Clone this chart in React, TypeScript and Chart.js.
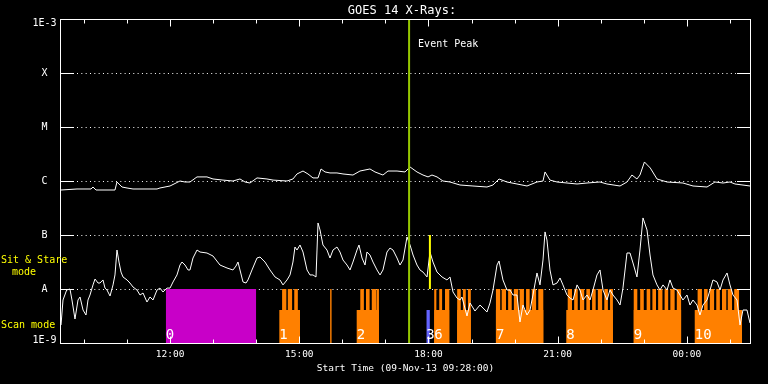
import React, { useEffect, useRef } from "react";
import { Chart, registerables } from "chart.js";

Chart.register(...registerables);

// ---------- data ----------
const START_TIME = "09:28";
const END_OFFSET_MIN = 960; // 01:28 next day

const yTickValues = [1e-9, 1e-8, 1e-7, 1e-6, 1e-5, 1e-4, 1e-3];
const yTickLabels = ["1E-9", "A", "B", "C", "M", "X", "1E-3"];
const gridLevels = [1e-8, 1e-7, 1e-6, 1e-5, 1e-4];

const xTickTimes = ["12:00", "15:00", "18:00", "21:00", "00:00"];
const hourTickTimes = [
  "10:00", "11:00", "12:00", "13:00", "14:00", "15:00", "16:00", "17:00",
  "18:00", "19:00", "20:00", "21:00", "22:00", "23:00", "00:00", "01:00",
];

const chartTitle = "GOES 14 X-Rays:";
const xAxisTitle = "Start Time (09-Nov-13 09:28:00)";
const eventPeakTime = "17:33";
const eventPeakLabel = "Event Peak";

// long channel (1-8 A), [minutes after start, W/m^2]
const longChannel: [number, number][] = [
  [0, 6.81e-7], [22.3, 7.11e-7], [41.8, 7.11e-7], [44.6, 7.74e-7], [48.8, 6.81e-7], [54.3, 6.81e-7],
  [75.2, 6.81e-7], [78.0, 9.58e-7], [85.0, 7.74e-7], [92.0, 7.42e-7], [100.3, 7.11e-7], [133.8, 7.11e-7],
  [137.9, 7.42e-7], [151.9, 8.08e-7], [165.8, 1.0e-6], [172.8, 9.58e-7], [179.7, 9.58e-7], [189.5, 1.19e-6],
  [203.4, 1.19e-6], [211.8, 1.09e-6], [225.7, 1.04e-6], [239.6, 1.0e-6], [249.4, 1.09e-6], [256.4, 9.58e-7],
  [263.3, 9.18e-7], [273.1, 1.14e-6], [287.0, 1.09e-6], [295.4, 1.04e-6], [314.9, 1.0e-6], [323.2, 1.09e-6],
  [328.8, 1.35e-6], [337.2, 1.53e-6], [344.1, 1.35e-6], [351.1, 1.14e-6], [358.1, 1.14e-6], [362.3, 1.67e-6],
  [367.9, 1.47e-6], [374.8, 1.41e-6], [384.5, 1.41e-6], [392.9, 1.35e-6], [406.8, 1.29e-6], [416.6, 1.53e-6],
  [430.5, 1.67e-6], [437.5, 1.47e-6], [448.6, 1.29e-6], [455.6, 1.53e-6], [468.2, 1.53e-6], [479.3, 1.47e-6],
  [486.3, 1.82e-6], [496.0, 1.47e-6], [504.4, 1.29e-6], [511.4, 1.19e-6], [516.9, 1.29e-6], [523.9, 1.19e-6],
  [532.2, 1.0e-6], [542.0, 9.58e-7], [555.9, 8.43e-7], [574.0, 8.08e-7], [593.5, 7.74e-7], [601.9, 8.43e-7],
  [610.3, 1.09e-6], [621.4, 9.58e-7], [635.3, 8.80e-7], [649.3, 8.08e-7], [663.2, 9.58e-7], [671.6, 1.0e-6],
  [674.4, 1.47e-6], [681.3, 1.04e-6], [691.1, 9.58e-7], [705.0, 9.18e-7], [719.0, 8.80e-7], [732.9, 9.18e-7],
  [751.0, 9.58e-7], [760.7, 8.80e-7], [778.9, 8.08e-7], [788.6, 9.58e-7], [795.5, 1.29e-6], [802.5, 1.09e-6],
  [806.7, 1.29e-6], [812.9, 2.25e-6], [821.1, 1.74e-6], [830.4, 1.09e-6], [844.4, 9.58e-7], [866.6, 9.18e-7],
  [880.6, 8.08e-7], [900.1, 7.74e-7], [911.2, 9.58e-7], [922.4, 9.18e-7], [932.1, 9.58e-7], [939.1, 8.80e-7],
  [960, 8.08e-7],
];

// short channel (0.5-4 A), [minutes after start, W/m^2]
const shortChannel: [number, number][] = [
  [0, 2.15e-9], [2.8, 6.26e-9], [7.9, 9.58e-9], [12.5, 1.0e-8], [15.3, 6.26e-9], [19.5, 2.78e-9],
  [23.7, 6.26e-9], [26.5, 7.11e-9], [30.7, 4.08e-9], [34.8, 3.30e-9], [37.6, 6.26e-9], [40.4, 7.74e-9],
  [44.6, 1.19e-8], [47.4, 1.53e-8], [51.6, 1.29e-8], [54.3, 1.29e-8], [58.5, 1.47e-8], [61.3, 1.04e-8],
  [64.1, 9.58e-9], [68.3, 7.42e-9], [72.5, 1.19e-8], [75.2, 1.82e-8], [78.0, 5.27e-8], [80.8, 3.16e-8],
  [83.6, 2.06e-8], [86.4, 1.67e-8], [92.0, 1.47e-8], [96.1, 1.29e-8], [100.3, 1.09e-8], [105.9, 9.58e-9],
  [110.1, 7.74e-9], [114.3, 8.43e-9], [119.8, 5.74e-9], [124.0, 7.11e-9], [128.2, 6.26e-9], [133.8, 9.58e-9],
  [137.9, 1.04e-8], [142.1, 8.80e-9], [147.7, 1.04e-8], [151.9, 1.04e-8], [156.1, 1.35e-8], [161.6, 1.82e-8],
  [165.8, 2.78e-8], [168.6, 3.16e-8], [172.8, 2.78e-8], [177.0, 2.25e-8], [179.7, 2.25e-8], [183.9, 3.75e-8],
  [189.5, 5.27e-8], [193.7, 4.84e-8], [203.4, 4.64e-8], [211.8, 4.08e-8], [221.5, 2.78e-8], [231.3, 2.45e-8],
  [239.6, 2.25e-8], [243.8, 2.66e-8], [246.6, 3.16e-8], [249.4, 2.25e-8], [253.6, 1.35e-8], [257.8, 1.29e-8],
  [260.5, 1.47e-8], [266.1, 2.25e-8], [273.1, 3.75e-8], [277.3, 3.91e-8], [284.2, 3.16e-8], [291.2, 2.25e-8],
  [298.2, 1.67e-8], [305.1, 1.47e-8], [309.3, 1.19e-8], [314.9, 1.47e-8], [319.1, 1.82e-8], [323.2, 3.16e-8],
  [326.0, 5.99e-8], [328.8, 5.27e-8], [333.0, 6.53e-8], [337.2, 4.84e-8], [342.8, 2.25e-8], [346.9, 1.82e-8],
  [351.1, 1.82e-8], [355.3, 1.67e-8], [356.7, 5.27e-8], [358.1, 1.67e-7], [360.9, 1.24e-7], [365.0, 6.53e-8],
  [370.6, 5.27e-8], [374.8, 3.75e-8], [379.0, 5.27e-8], [384.5, 5.99e-8], [388.7, 4.84e-8], [392.9, 3.44e-8],
  [398.5, 2.78e-8], [402.7, 2.25e-8], [406.8, 3.16e-8], [412.4, 5.27e-8], [415.2, 6.53e-8], [419.4, 3.75e-8],
  [423.6, 2.78e-8], [426.3, 4.84e-8], [430.5, 4.26e-8], [434.7, 3.16e-8], [440.3, 2.25e-8], [444.5, 1.82e-8],
  [448.6, 2.25e-8], [454.2, 4.84e-8], [458.4, 5.74e-8], [462.6, 5.27e-8], [468.2, 3.75e-8], [472.3, 2.78e-8],
  [476.5, 3.44e-8], [482.1, 9.18e-8], [486.3, 6.53e-8], [490.5, 4.26e-8], [496.0, 2.78e-8], [500.2, 2.25e-8],
  [504.4, 2.06e-8], [510.0, 1.67e-8], [514.1, 4.84e-8], [518.3, 3.16e-8], [523.9, 2.06e-8], [530.9, 1.67e-8],
  [537.8, 1.47e-8], [542.0, 1.67e-8], [546.2, 8.80e-9], [551.7, 6.81e-9], [555.9, 6.26e-9], [558.7, 7.11e-9],
  [565.7, 3.16e-9], [569.9, 5.50e-9], [576.8, 3.91e-9], [583.8, 5.05e-9], [588.0, 4.45e-9], [593.5, 3.75e-9],
  [597.7, 5.50e-9], [601.9, 9.58e-9], [607.5, 2.78e-8], [610.3, 3.30e-8], [615.8, 1.47e-8], [621.4, 9.58e-9],
  [625.6, 9.58e-9], [629.8, 7.74e-9], [635.3, 7.74e-9], [639.5, 2.45e-9], [643.7, 5.05e-9], [649.3, 3.30e-9],
  [653.5, 4.08e-9], [657.6, 7.74e-9], [663.2, 1.98e-8], [667.4, 1.19e-8], [671.6, 3.44e-8], [674.4, 1.14e-7],
  [677.1, 8.08e-8], [681.3, 2.25e-8], [685.5, 1.19e-8], [691.1, 1.29e-8], [695.3, 1.60e-8], [699.4, 1.19e-8],
  [705.0, 7.74e-9], [709.2, 6.81e-9], [713.4, 6.26e-9], [719.0, 1.19e-8], [723.1, 9.58e-9], [727.3, 6.26e-9],
  [732.9, 7.74e-9], [737.1, 6.26e-9], [741.2, 9.58e-9], [746.8, 1.82e-8], [751.0, 2.25e-8], [755.2, 9.58e-9],
  [760.7, 6.26e-9], [764.9, 9.58e-9], [769.1, 7.74e-9], [774.7, 6.26e-9], [778.9, 5.05e-9], [783.0, 1.04e-8],
  [788.6, 4.64e-8], [792.8, 4.64e-8], [797.0, 3.03e-8], [802.5, 1.67e-8], [806.7, 5.27e-8], [810.9, 2.07e-7],
  [816.5, 1.24e-7], [820.7, 4.26e-8], [824.8, 1.82e-8], [830.4, 1.19e-8], [834.6, 9.58e-9], [838.8, 1.19e-8],
  [844.4, 9.58e-9], [848.5, 1.47e-8], [852.7, 1.04e-8], [858.3, 9.58e-9], [862.5, 7.74e-9], [866.6, 6.26e-9],
  [872.2, 7.74e-9], [876.4, 5.05e-9], [880.6, 6.26e-9], [886.1, 5.05e-9], [890.3, 3.30e-9], [894.5, 5.05e-9],
  [900.1, 6.26e-9], [904.3, 9.58e-9], [908.4, 1.47e-8], [914.0, 1.35e-8], [918.2, 9.58e-9], [922.4, 1.47e-8],
  [928.0, 1.98e-8], [932.1, 1.19e-8], [936.3, 7.74e-9], [941.9, 6.26e-9], [946.1, 2.15e-9], [950.2, 4.08e-9],
  [955.8, 4.08e-9], [960, 2.34e-9],
];

// observation bars (time intervals)
const FLOOR = 1e-9;
const SIT_STARE_TOP = 1e-8;
const SCAN_BLOCK_TOP = 4.1e-9;
const STRIPE_TOP = 1e-8;

const sitStareIntervals: [string, string][] = [["11:54", "14:00"]];
const blueIntervals: [string, string][] = [["17:57", "18:02"]];
const scanBlocks: [string, string][] = [
  ["14:32", "15:01"], ["16:20", "16:51"], ["18:08", "18:29"], ["18:40", "18:59"],
  ["19:34", "20:40"], ["21:12", "22:17"], ["22:46", "23:52"], ["00:11", "01:17"],
];
const scanStripes: [string, string][] = [
  ["14:36", "14:42"], ["14:44", "14:50"], ["14:53", "14:58"],
  ["15:43", "15:45"],
  ["16:25", "16:30"], ["16:33", "16:38"], ["16:41", "16:47"], ["16:48", "16:51"],
  ["18:08", "18:11"], ["18:15", "18:19"], ["18:23", "18:29"],
  ["18:40", "18:45"], ["18:48", "18:52"], ["18:55", "18:59"],
  ["19:34", "19:40"], ["19:42", "19:48"], ["19:51", "19:56"], ["19:59", "20:05"],
  ["20:07", "20:13"], ["20:16", "20:21"], ["20:24", "20:30"], ["20:33", "20:40"],
  ["21:14", "21:20"], ["21:23", "21:28"], ["21:31", "21:37"], ["21:40", "21:45"],
  ["21:48", "21:53"], ["21:56", "22:02"], ["22:05", "22:10"], ["22:13", "22:17"],
  ["22:46", "22:51"], ["22:55", "23:00"], ["23:04", "23:09"], ["23:12", "23:17"],
  ["23:20", "23:26"], ["23:29", "23:34"], ["23:37", "23:43"], ["23:46", "23:52"],
  ["00:15", "00:21"], ["00:24", "00:29"], ["00:32", "00:38"], ["00:41", "00:46"],
  ["00:49", "00:55"], ["00:57", "01:03"], ["01:06", "01:13"],
];
const yellowMarkTime = "18:02";
const yellowMarkRange = [1e-8, 1e-7];

const barLabels: [string, string][] = [
  ["0", "11:54"], ["1", "14:32"], ["2", "16:20"], ["3", "17:57"], ["6", "18:08"],
  ["7", "19:34"], ["8", "21:12"], ["9", "22:46"], ["10", "00:11"],
];

// ---------- helpers ----------
function toMin(t: string): number {
  const [h, m] = t.split(":").map(Number);
  const [h0, m0] = START_TIME.split(":").map(Number);
  return (h * 60 + m - (h0 * 60 + m0) + 1440) % 1440;
}

function rectPoints(intervals: [string, string][], top: number) {
  const pts: { x: number; y: number }[] = [];
  for (const [s, e] of intervals) {
    const a = toMin(s);
    const b = toMin(e);
    pts.push({ x: a, y: FLOOR }, { x: a, y: top }, { x: b, y: top }, { x: b, y: FLOOR });
  }
  return pts;
}

const MONO = "'DejaVu Sans Mono', monospace";

const decorPlugin = {
  id: "decor",
  beforeDatasetsDraw(chart: any) {
    const { ctx, chartArea: a, scales } = chart;
    const ys = scales.y;
    ctx.save();
    ctx.strokeStyle = "#ffffff";
    ctx.lineWidth = 1;
    ctx.setLineDash([1, 3.33]);
    for (const v of gridLevels) {
      const py = Math.round(ys.getPixelForValue(v)) + 0.5;
      ctx.beginPath();
      ctx.moveTo(a.left + 16, py);
      ctx.lineTo(a.right - 14, py);
      ctx.stroke();
    }
    ctx.restore();
  },
  afterDatasetsDraw(chart: any) {
    const { ctx, chartArea: a, scales } = chart;
    const xs = scales.x;
    const ys = scales.y;
    const L = a.left - 0.5;
    const R = a.right + 0.5;
    const T = a.top + 0.5;
    const B = a.bottom + 0.5;
    ctx.save();
    ctx.strokeStyle = "#ffffff";
    ctx.lineWidth = 1;
    ctx.setLineDash([]);
    ctx.strokeRect(L, T, R - L, B - T);
    // y stubs + y labels
    ctx.fillStyle = "#ffffff";
    ctx.font = `10px ${MONO}`;
    ctx.textAlign = "center";
    ctx.textBaseline = "middle";
    yTickValues.forEach((v, i) => {
      const raw = ys.getPixelForValue(v);
      const py = Math.round(raw) + 0.5;
      ctx.beginPath();
      ctx.moveTo(L, py);
      ctx.lineTo(L + 13.5, py);
      ctx.moveTo(R - 13.5, py);
      ctx.lineTo(R, py);
      ctx.stroke();
      const ly = Math.min(Math.max(raw + 0.8, a.top + 4), a.bottom - 3);
      ctx.fillText(yTickLabels[i], 44.5, ly);
    });
    // x ticks
    for (const t of hourTickTimes) {
      const px = Math.round(xs.getPixelForValue(toMin(t))) + 0.5;
      const len = xTickTimes.includes(t) ? 7 : 4;
      ctx.beginPath();
      ctx.moveTo(px, T);
      ctx.lineTo(px, T + len);
      ctx.moveTo(px, B);
      ctx.lineTo(px, B - len);
      ctx.stroke();
    }
    // title
    ctx.textBaseline = "alphabetic";
    ctx.textAlign = "center";
    ctx.font = `12px ${MONO}`;
    ctx.fillText(chartTitle, (a.left + a.right) / 2 - 3.5, 14);
    // event peak label
    ctx.textAlign = "left";
    ctx.font = `10px ${MONO}`;
    ctx.fillText(eventPeakLabel, xs.getPixelForValue(toMin(eventPeakTime)) + 9, 47);
    // bar labels
    ctx.font = `14px ${MONO}`;
    for (const [lab, t] of barLabels) {
      ctx.fillText(lab, xs.getPixelForValue(toMin(t)), 339);
    }
    // mode labels
    ctx.fillStyle = "#ffff00";
    ctx.font = `10px ${MONO}`;
    ctx.fillText("Sit & Stare", 1, 263);
    ctx.fillText("mode", 12, 275);
    ctx.fillText("Scan mode", 1, 328);
    ctx.restore();
  },
};

export default function App() {
  const ref = useRef<HTMLCanvasElement | null>(null);
  useEffect(() => {
    if (!ref.current) return;
    const eventX = toMin(eventPeakTime);
    const yellowX = toMin(yellowMarkTime);
    const chart = new Chart(ref.current, {
      type: "line",
      data: {
        datasets: [
          {
            label: "Event Peak",
            data: [{ x: eventX, y: 1e-9 }, { x: eventX, y: 1e-3 }],
            borderColor: "rgb(150,200,0)",
            borderWidth: 2,
            pointRadius: 0,
            fill: false,
          },
          {
            label: "Mark",
            data: [{ x: yellowX, y: yellowMarkRange[0] }, { x: yellowX, y: yellowMarkRange[1] }],
            borderColor: "#ffff00",
            borderWidth: 2,
            pointRadius: 0,
            fill: false,
          },
          {
            label: "Long",
            data: longChannel.map(([x, y]) => ({ x, y })),
            borderColor: "#ffffff",
            borderWidth: 1,
            pointRadius: 0,
            fill: false,
          },
          {
            label: "Short",
            data: shortChannel.map(([x, y]) => ({ x, y })),
            borderColor: "#ffffff",
            borderWidth: 1,
            pointRadius: 0,
            fill: false,
          },
          {
            label: "Sit & Stare",
            data: rectPoints(sitStareIntervals, SIT_STARE_TOP),
            borderWidth: 0,
            borderColor: "rgba(0,0,0,0)",
            backgroundColor: "rgb(200,0,200)",
            pointRadius: 0,
            fill: "start",
          },
          {
            label: "Blue",
            data: rectPoints(blueIntervals, SCAN_BLOCK_TOP),
            borderWidth: 0,
            borderColor: "rgba(0,0,0,0)",
            backgroundColor: "rgb(100,100,255)",
            pointRadius: 0,
            fill: "start",
          },
          {
            label: "Scan stripes",
            data: rectPoints(scanStripes, STRIPE_TOP),
            borderWidth: 0,
            borderColor: "rgba(0,0,0,0)",
            backgroundColor: "rgb(255,128,0)",
            pointRadius: 0,
            fill: "start",
          },
          {
            label: "Scan blocks",
            data: rectPoints(scanBlocks, SCAN_BLOCK_TOP),
            borderWidth: 0,
            borderColor: "rgba(0,0,0,0)",
            backgroundColor: "rgb(255,128,0)",
            pointRadius: 0,
            fill: "start",
          },
        ],
      },
      options: {
        responsive: false,
        animation: false,
        events: [],
        layout: { padding: { left: 0, right: 18, top: 19, bottom: 0 } },
        elements: { line: { tension: 0 }, point: { radius: 0 } },
        plugins: {
          legend: { display: false },
          tooltip: { enabled: false },
          title: { display: false },
        },
        scales: {
          x: {
            type: "linear",
            position: "bottom",
            min: 0,
            max: END_OFFSET_MIN,
            grid: { display: false, drawTicks: false },
            border: { display: false },
            afterBuildTicks: (s: any) => {
              s.ticks = xTickTimes.map((t) => ({ value: toMin(t) }));
            },
            afterFit: (s: any) => {
              s.height = 41;
            },
            ticks: {
              autoSkip: false,
              maxRotation: 0,
              color: "#ffffff",
              padding: 6,
              font: { family: MONO, size: 9.5 },
              callback: (_v: any, i: number) => xTickTimes[i],
            },
            title: {
              display: true,
              text: xAxisTitle,
              color: "#ffffff",
              font: { family: MONO, size: 9.5 },
              padding: { top: 0, bottom: 10 },
            },
          },
          y: {
            type: "logarithmic",
            position: "left",
            min: 1e-9,
            max: 1e-3,
            grid: { display: false, drawTicks: false },
            border: { display: false },
            afterBuildTicks: (s: any) => {
              s.ticks = yTickValues.map((v) => ({ value: v }));
            },
            afterFit: (s: any) => {
              s.width = 61;
            },
            ticks: {
              display: false,
              autoSkip: false,
            },
          },
        },
      },
      plugins: [decorPlugin],
    } as any);
    return () => chart.destroy();
  }, []);

  return (
    <div style={{ position: "fixed", left: 0, top: 0, width: 768, height: 384, background: "#000000" }}>
      <canvas ref={ref} width={768} height={384} style={{ display: "block" }} />
    </div>
  );
}
